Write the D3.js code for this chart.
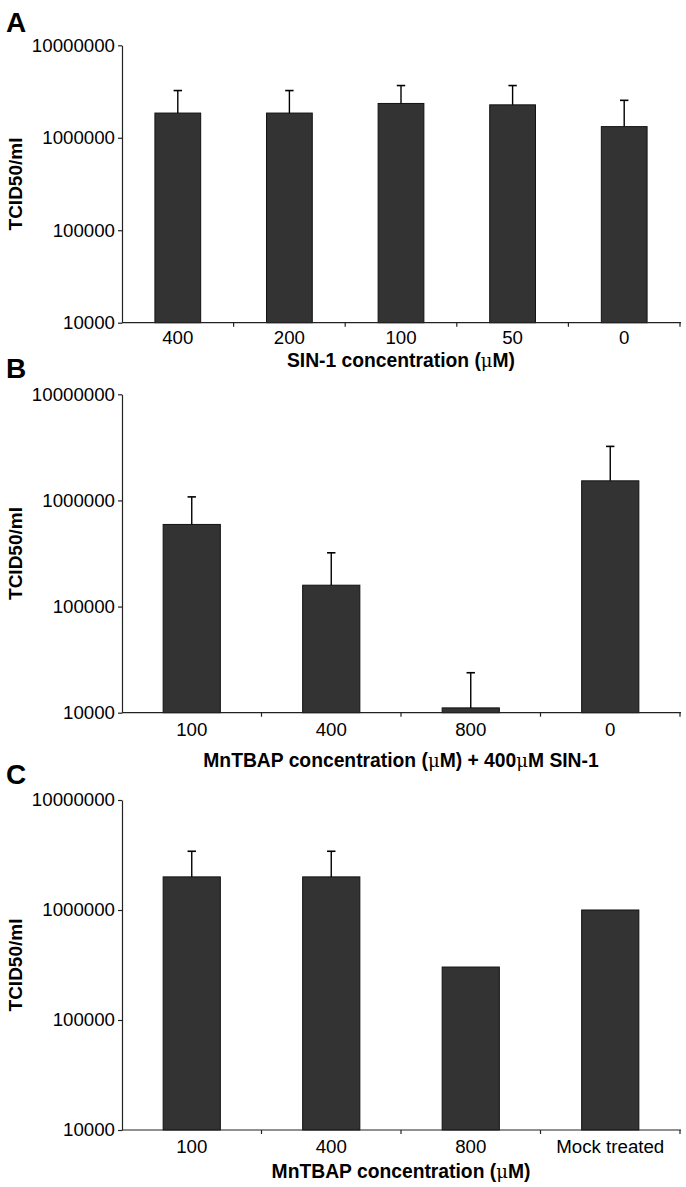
<!DOCTYPE html>
<html><head><meta charset="utf-8">
<script src="https://cdn.jsdelivr.net/npm/d3@7"></script>
<style>
html,body{margin:0;padding:0;background:#fff;}
svg{display:block;}
text{font-family:"Liberation Sans",Arial,Helvetica,sans-serif;fill:#000;}
</style></head>
<body>
<script>
// ---- data ----
const catsA = ["400","200","100","50","0"];
const valsA = [1850000,1850000,2350000,2270000,1320000];
const errA  = [3240000,3240000,3670000,3670000,2540000];

const catsB = ["100","400","800","0"];
const valsB = [594000,159000,11100,1530000];
const errB  = [1080000,321000,23800,3230000];

const catsC = ["100","400","800","Mock treated"];
const valsC = [2000000,2000000,303000,1000000];
const errC  = [3420000,3420000,null,null];

const yTicks = [10000,100000,1000000,10000000];
const yLabel = "TCID50/ml";

const panels = [
  {letter:"A", cats:catsA, vals:valsA, errs:errA, title:["SIN-1 concentration (","μ","M)"],
   top:45.3, bottom:322.7, letterY:32, tickY:343.5, titleY:366.7},
  {letter:"B", cats:catsB, vals:valsB, errs:errB, title:["MnTBAP concentration (","μ","M) + 400","μ","M SIN-1"],
   top:394.3, bottom:712.7, letterY:377.5, tickY:735.5, titleY:767},
  {letter:"C", cats:catsC, vals:valsC, errs:errC, title:["MnTBAP concentration (","μ","M)"],
   top:800, bottom:1130, letterY:784, tickY:1153, titleY:1178}
];

const W = 686, H = 1187;
const left = 122, right = 680;

const svg = d3.select("body").append("svg").attr("width", W).attr("height", H);

panels.forEach(p => {
  const g = svg.append("g");
  const y = d3.scaleLog().domain([10000,10000000]).range([p.bottom, p.top]);
  const x = d3.scaleBand().domain(p.cats).range([left, right]).padding(0);
  const bx = d3.scaleLinear().domain([0, p.cats.length]).range([left, right]);
  const bw = x.bandwidth();
  const barW = bw * 0.41;

  // bars
  g.selectAll("rect.bar").data(p.cats).enter().append("rect")
    .attr("x", d => x(d) + (bw - barW) / 2)
    .attr("width", barW)
    .attr("y", (d,i) => y(p.vals[i]))
    .attr("height", (d,i) => p.bottom - y(p.vals[i]))
    .attr("fill", "#333333")
    .attr("stroke", "#111")
    .attr("stroke-width", 1);

  // error bars
  const eg = g.selectAll("g.err").data(p.cats.map((c,i)=>({c, v:p.vals[i], e:p.errs[i]})).filter(d=>d.e!=null))
    .enter().append("g");
  eg.append("line")
    .attr("x1", d => x(d.c) + bw/2).attr("x2", d => x(d.c) + bw/2)
    .attr("y1", d => y(d.v)).attr("y2", d => y(d.e))
    .attr("stroke","#000").attr("stroke-width",1.4);
  eg.append("line")
    .attr("x1", d => x(d.c) + bw/2 - 4.2).attr("x2", d => x(d.c) + bw/2 + 4.2)
    .attr("y1", d => y(d.e)).attr("y2", d => y(d.e))
    .attr("stroke","#000").attr("stroke-width",1.6);

  // y axis
  const ya = g.append("g").attr("transform", `translate(${left},0)`)
    .call(d3.axisLeft(y).tickValues(yTicks).tickFormat(d3.format("d")).tickSize(4).tickSizeOuter(0).tickPadding(3));
  ya.select(".domain").attr("stroke","#222").attr("stroke-width",1.2);
  ya.selectAll(".tick line").attr("stroke","#222").attr("stroke-width",1.2);
  ya.selectAll(".tick text").attr("font-size","18.7px").attr("fill","#000")
    .attr("font-family","'Liberation Sans',Arial,sans-serif");

  // x axis line + boundary ticks
  g.append("line").attr("x1", left).attr("x2", right + 1)
    .attr("y1", p.bottom).attr("y2", p.bottom)
    .attr("stroke","#222").attr("stroke-width",1.2);
  g.selectAll("line.bt").data(d3.range(1, p.cats.length + 1)).enter().append("line")
    .attr("x1", d => bx(d)).attr("x2", d => bx(d))
    .attr("y1", p.bottom).attr("y2", p.bottom + 4)
    .attr("stroke","#222").attr("stroke-width",1.2);
  g.selectAll("text.xl").data(p.cats).enter().append("text")
    .attr("x", d => x(d) + bw/2).attr("y", p.tickY)
    .attr("text-anchor","middle").attr("font-size","18.7px").text(d => d);

  // x title
  const t = g.append("text").attr("x", (left + right)/2).attr("y", p.titleY)
    .attr("text-anchor","middle").attr("font-size","19.3px").attr("font-weight","bold");
  p.title.forEach(s => {
    const ts = t.append("tspan").text(s);
    if (s === "μ") ts.attr("font-weight","normal").attr("font-family","'DejaVu Serif','Liberation Serif',serif").attr("font-size","18px");
  });

  // y title
  g.append("text")
    .attr("transform", `translate(22,${(p.top + p.bottom)/2}) rotate(-90)`)
    .attr("text-anchor","middle").attr("font-size","19px").attr("font-weight","bold")
    .text(yLabel);

  // panel letter
  g.append("text").attr("x", 6).attr("y", p.letterY)
    .attr("font-size","28px").attr("font-weight","bold").text(p.letter);
});
</script>
</body></html>
